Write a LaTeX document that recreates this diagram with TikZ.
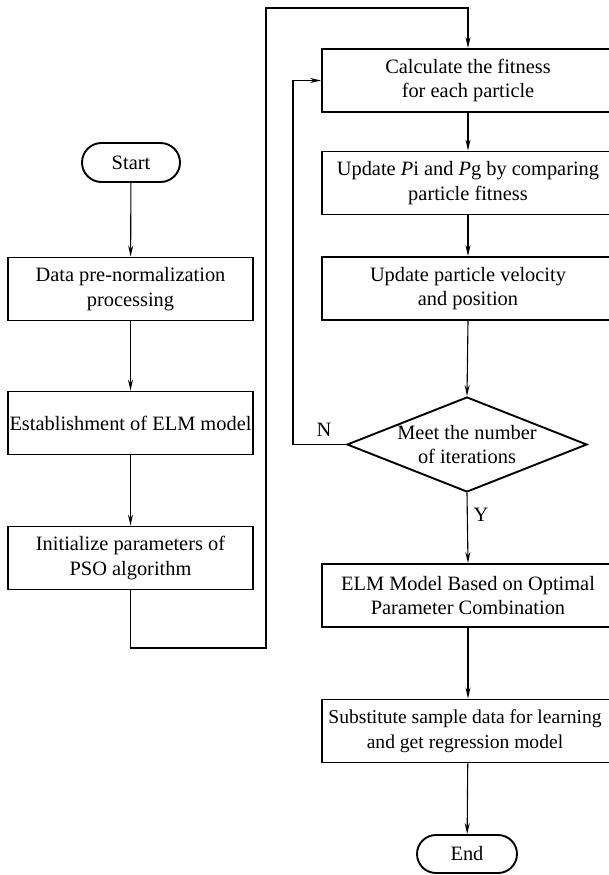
\documentclass[tikz,border=0pt]{standalone}
\usepackage{fontspec}
\setmainfont{Liberation Serif}
\usetikzlibrary{shapes.geometric,shapes.misc,arrows.meta}
\begin{document}
\begin{tikzpicture}[x=1pt,y=-1pt,
  txt/.style={font=\fontsize{20.4}{24.5}\selectfont},
  box/.style={txt, draw, line width=1.9pt, minimum width=245pt, minimum height=63pt, inner sep=0pt, align=center},
  rbox/.style={box, minimum width=292pt},
  term/.style={txt, draw, line width=1.9pt, rounded rectangle, minimum width=98pt, minimum height=39pt, inner sep=0pt},
  dec/.style={draw, line width=1.9pt, diamond, minimum width=240pt, minimum height=95pt, inner sep=0pt},
  conn/.style={line width=1.1pt, -{Stealth[length=11pt,width=5pt]}}
]
\useasboundingbox (0,0) rectangle (608,875);
% left column
\node[term] (start) at (131,162.5) {Start};
\node[box] (data) at (130.5,289) {Data pre-normalization\\processing};
\node[box] (est) at (130.5,423) {Establishment of ELM model};
\node[box] (init) at (130.5,558) {Initialize parameters of\\PSO algorithm};
% right column
\node[rbox] (calc) at (468,80.5) {Calculate the fitness\\for each particle};
\node[rbox] (upp) at (468,183) {Update \textit{P}i and \textit{P}g by comparing\\particle fitness};
\node[rbox] (upv) at (468,288.5) {Update particle velocity\\and position};
\node[dec] (meet) at (467,444.5) {};
\node[txt, align=center] (meettxt) at (467,444.5) {Meet the number\\of iterations};
\node[rbox] (elm) at (468,595.5) {ELM Model Based on Optimal\\Parameter Combination};
\node[rbox] (sub) at (468,731) {};
\node[font=\fontsize{19.6}{24.5}\selectfont, align=center, inner sep=0pt] (subtxt) at (465,731) {Substitute sample data for learning\\and get regression model};
\node[term, minimum width=100pt, minimum height=38pt] (end) at (467,854) {End};
% labels
\node[txt] (nlab) at (324,430) {N};
\node[txt] (ylab) at (481,515) {Y};
% helper coordinates
\coordinate (c2) at (266,648);
\coordinate (c3) at (266,8);
\coordinate (fb) at (293,80.5);
% connectors
\draw[conn] (start) -- (data);
\draw[conn] (data) -- (est);
\draw[conn] (est) -- (init);
\draw[conn] (init.south) |- (c2) -- (c3) -| (calc.north);
\draw[conn] (calc) -- (upp);
\draw[conn] (upp) -- (upv);
\draw[conn] (upv.south) -- (meet.north);
\draw[conn] (meet.west) -| (fb) -- (calc.west);
\draw[conn] (meet.south) -- (elm.north);
\draw[conn] (elm) -- (sub);
\draw[conn] (sub) -- (end);
\end{tikzpicture}
\end{document}
